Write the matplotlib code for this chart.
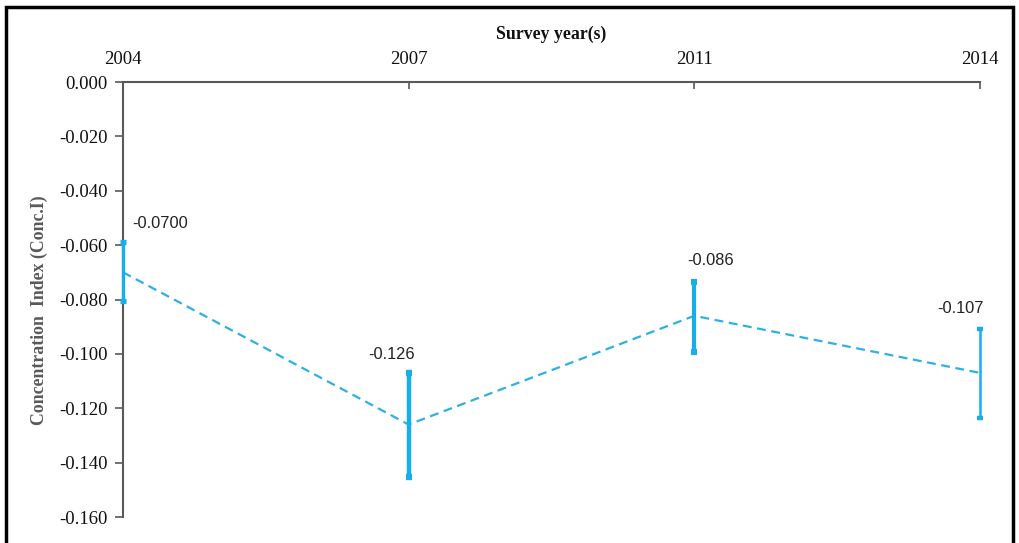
import matplotlib
matplotlib.use("Agg")
import matplotlib.pyplot as plt
from matplotlib.patches import Rectangle

years = ["2004", "2007", "2011", "2014"]
conc_index = [-0.0700, -0.126, -0.086, -0.107]
ci_upper = [-0.059, -0.107, -0.0734, -0.0908]
ci_lower = [-0.0805, -0.1452, -0.0994, -0.1235]
value_labels = ["-0.0700", "-0.126", "-0.086", "-0.107"]
yticks = [0.000, -0.020, -0.040, -0.060, -0.080, -0.100, -0.120, -0.140, -0.160]

fig = plt.figure(figsize=(10.2, 5.43), dpi=100)
ax = fig.add_axes([123/1020, 1-517/543, (980-123)/1020, (517-82)/543])

serif = "Liberation Serif"
color_err = "#17aee9"
color_line = "#2eb0e3"
axis_col = "#595959"

xs = list(range(len(years)))
ax.plot(xs, conc_index, linestyle=(0, (4, 2.5)), color=color_line, linewidth=1.6, zorder=3, clip_on=False)

bar_widths = [2.4, 3.2, 3.0, 1.8]
for x, c, up, lo, lw in zip(xs, conc_index, ci_upper, ci_lower, bar_widths):
    ax.errorbar([x], [c], yerr=[[c - lo], [up - c]], fmt="none", ecolor=color_err,
                elinewidth=lw, capsize=2.0, capthick=lw + 1.4, zorder=4, clip_on=False)

# value labels
offsets = [(7, 8, "left"), (-12, 8, "center"), (12, 10, "center"), (-14, 9, "center")]
for x, up, lab, (dx, dy, ha) in zip(xs, ci_upper, value_labels, offsets):
    ax.annotate(lab, (x, up), xytext=(dx, dy), textcoords="offset points",
                ha=ha, va="bottom", fontsize=11.8, family="Liberation Sans", color="#222222")

ax.set_xlim(0, 3)
ax.set_ylim(-0.160, 0.0)
ax.set_xticks(xs)
ax.set_xticklabels(years)
ax.set_yticks(yticks)
ax.set_yticklabels([f"{v:.3f}" for v in yticks])

ax.xaxis.tick_top()
ax.xaxis.set_label_position("top")
ax.tick_params(axis="x", direction="in", length=5, color=axis_col, width=1.2, pad=10,
               labelsize=13.5, labelcolor="#111111")
ax.tick_params(axis="y", direction="out", length=6, color=axis_col, width=1.2, pad=5,
               labelsize=13.5, labelcolor="#111111")
for lab in ax.get_xticklabels() + ax.get_yticklabels():
    lab.set_family(serif)

ax.spines["bottom"].set_visible(False)
ax.spines["right"].set_visible(False)
ax.spines["top"].set_color(axis_col)
ax.spines["left"].set_color(axis_col)
ax.spines["top"].set_linewidth(1.5)
ax.spines["left"].set_linewidth(1.5)

ax.set_xlabel("Survey year(s)", family=serif, fontweight="bold", fontsize=12.8, labelpad=9, color="#111111")
ax.set_ylabel("Concentration  Index (Conc.I)", family=serif, fontweight="bold", fontsize=12.8,
              color=axis_col)
ax.yaxis.set_label_coords(-0.087, 0.475)

# figure border
fig.patches.append(Rectangle((6/1020, -0.05), (1013-6)/1020, 1.05 - 7/543, transform=fig.transFigure,
                             fill=False, edgecolor="black", linewidth=2.5))

fig.savefig("out.png", dpi=100)
